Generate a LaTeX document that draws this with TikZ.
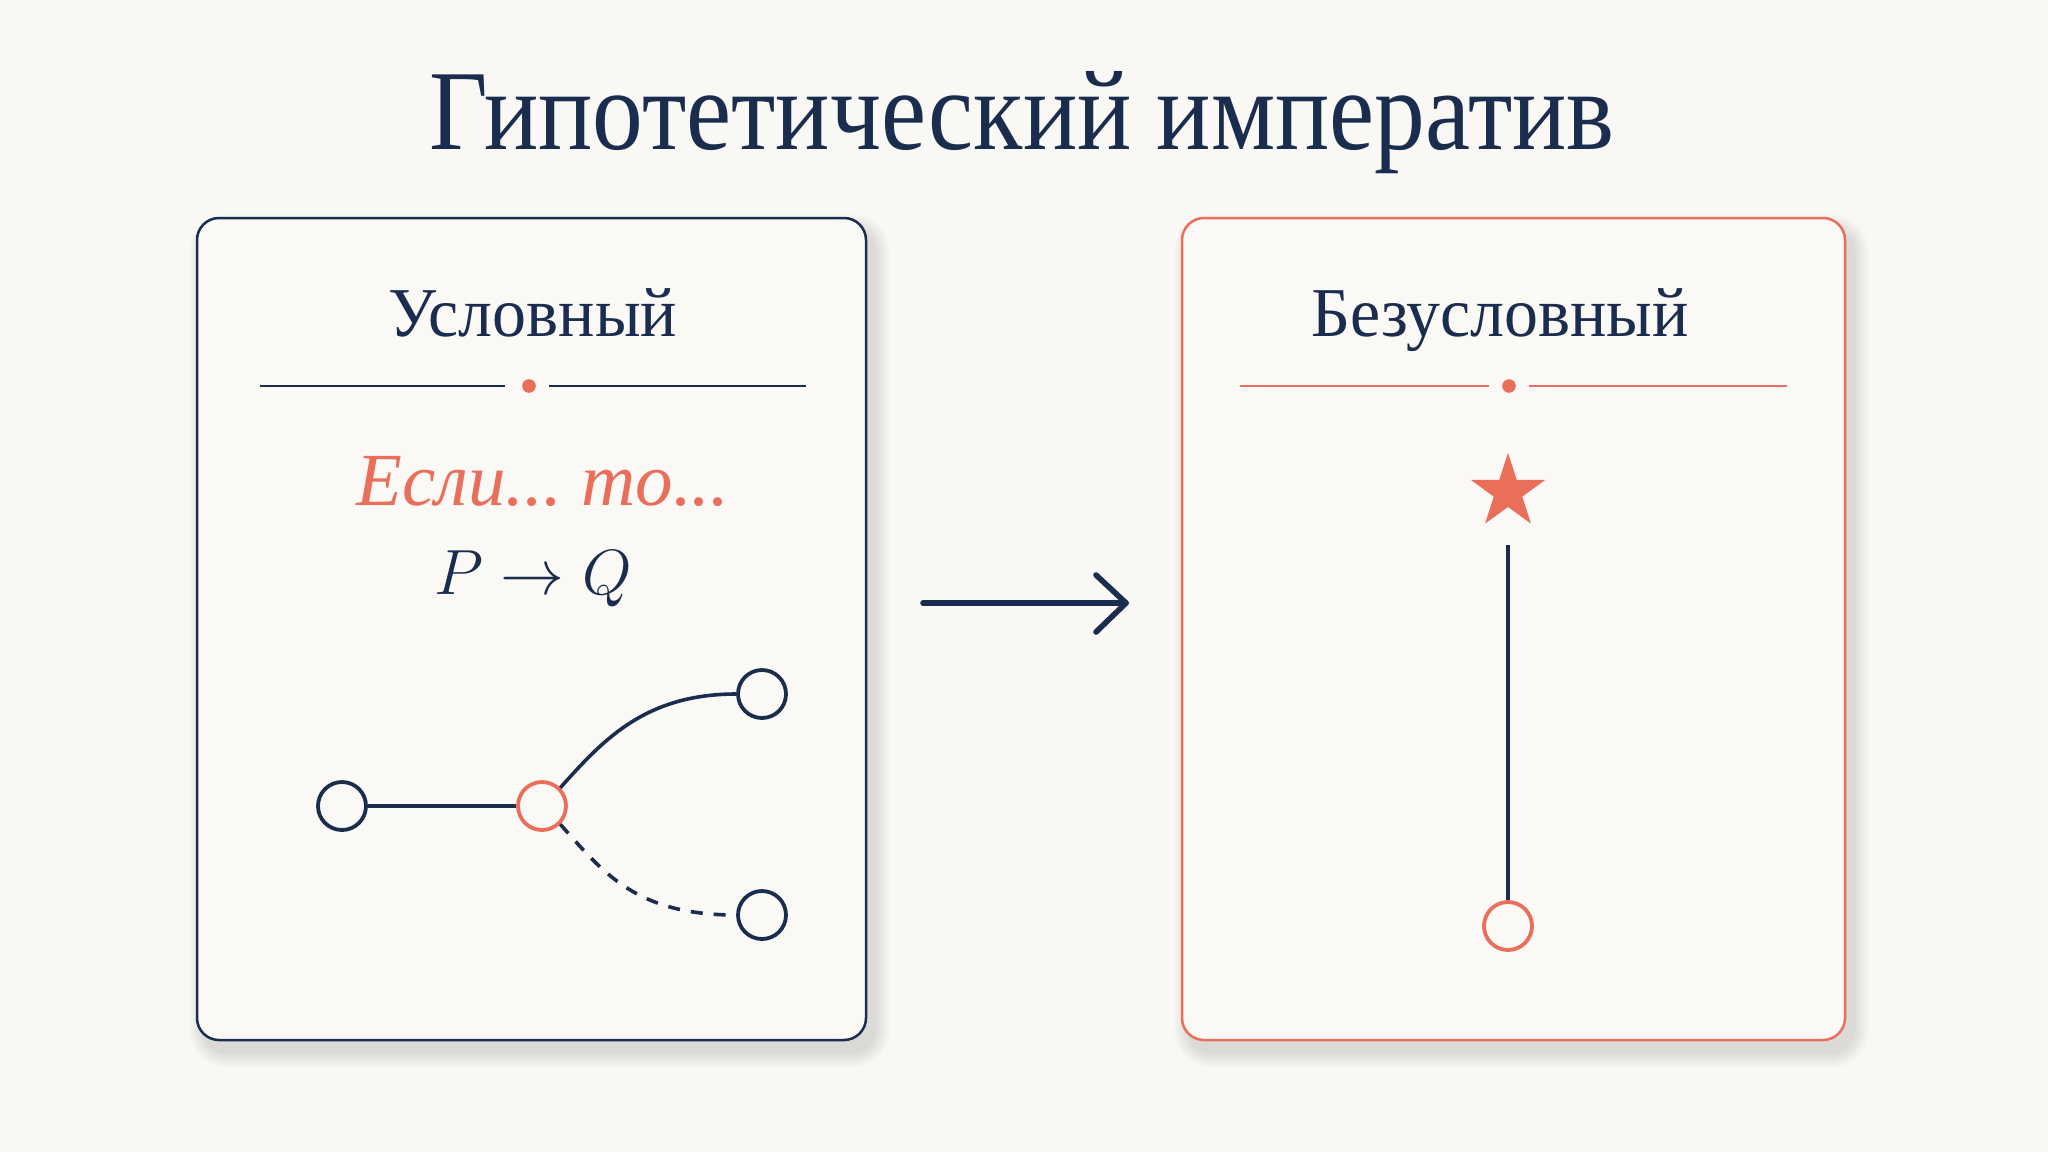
\documentclass[tikz,border=0pt]{standalone}
\usepackage{fontspec}
\setmainfont{Liberation Serif}
\newfontfamily\titlefont[FakeStretch=0.89]{Liberation Serif}
\newfontfamily\headfont[FakeStretch=0.97]{Liberation Serif}
\definecolor{navy}{HTML}{1B2D4F}
\definecolor{coral}{HTML}{E96F5B}
\definecolor{bgc}{HTML}{F9F8F4}
\definecolor{cardbg}{HTML}{FAF9F6}
\newcommand\mycardshadow[4]{%
  \foreach \i in {1,...,10}{%
    \fill[black, opacity=0.010, rounded corners={11pt+\i*0.8pt}]
      ({#1+8-\i*1.6},{#2+12-\i*1.6}) rectangle ({#3+8+\i*1.6},{#4+12+\i*1.6});
  }%
}
\begin{document}
\begin{tikzpicture}[x=0.5pt,y=-0.5pt,
  card/.style={line width=1.25pt, fill=cardbg, rounded corners=11pt},
  gnode/.style={circle, minimum size=24pt, inner sep=0pt, line width=1.9pt, fill=cardbg},
  edge/.style={line width=1.8pt, navy, line cap=butt},
  divline/.style={line width=1.05pt},
  headtxt/.style={anchor=base, text=navy, font=\headfont\fontsize{35}{38}\selectfont, inner sep=0pt}
]
\useasboundingbox (0,0) rectangle (2048,1152);
\fill[bgc] (0,0) rectangle (2048,1152);

% title
\node[anchor=base, text=navy, inner sep=0pt, font=\titlefont\fontsize{57}{60}\selectfont] (title) at (1022,149) {Гипотетический императив};

% shadows
\mycardshadow{197}{218}{866}{1040}
\mycardshadow{1182}{218}{1845}{1040}

% cards
\draw[card, draw=navy] (197,218) rectangle (866,1040);
\draw[card, draw=coral] (1182,218) rectangle (1845,1040);

% left card content
\node[headtxt] (lhead) at (533,336) {Условный};
\draw[divline, navy] (260,386) -- (505,386);
\fill[coral] (529,386) circle (3.4pt);
\draw[divline, navy] (549,386) -- (806,386);
\node[anchor=base, text=coral, inner sep=0pt, font=\itshape\fontsize{37.5}{40}\selectfont] (ifthen) at (543,505) {Если...\hspace{0.26em}то...};
\node[anchor=base, text=navy, inner sep=0pt, font=\fontsize{20.74}{24}\selectfont] (pq) at (533,594) {\scalebox{1.54}{$P \to Q$}};

\node[gnode, draw=navy] (ln) at (342,806) {};
\node[gnode, draw=coral] (mid) at (542,806) {};
\node[gnode, draw=navy] (tr) at (762,694) {};
\node[gnode, draw=navy] (br) at (762,915) {};
\draw[edge] (ln.east) -- (mid.west);
\draw[edge] (mid.45) .. controls (603,740) and (645,694) .. (tr.west);
\draw[edge, dash pattern=on 6pt off 5.5pt] (mid.-45) .. controls (603,872) and (635,915) .. (br.west);

% arrow between cards
\coordinate (as) at (923,603);
\coordinate (ae) at (1126,603);
\draw[navy, line width=2.8pt, line cap=round, line join=round] (as) -- (ae);
\draw[navy, line width=2.8pt, line cap=round, line join=round] (1096,575) -- (ae) -- (1096,632);

% right card content
\node[headtxt] (rhead) at (1500,336) {Безусловный};
\draw[divline, coral] (1240,386) -- (1489,386);
\fill[coral] (1509,386) circle (3.4pt);
\draw[divline, coral] (1529,386) -- (1787,386);
\coordinate (starc) at (1508,492);
\fill[coral] (1508,453)
  \foreach \k in {0,...,4}{
    -- ({1508+15*cos(-54+72*\k)},{492+15*sin(-54+72*\k)})
    -- ({1508+39*cos(-18+72*\k)},{492+39*sin(-18+72*\k)})
  } -- cycle;
\coordinate (vtop) at (1508,545);
\node[gnode, draw=coral] (bn) at (1508,926) {};
\draw[edge] (vtop) -- (bn.north);
\end{tikzpicture}
\end{document}
